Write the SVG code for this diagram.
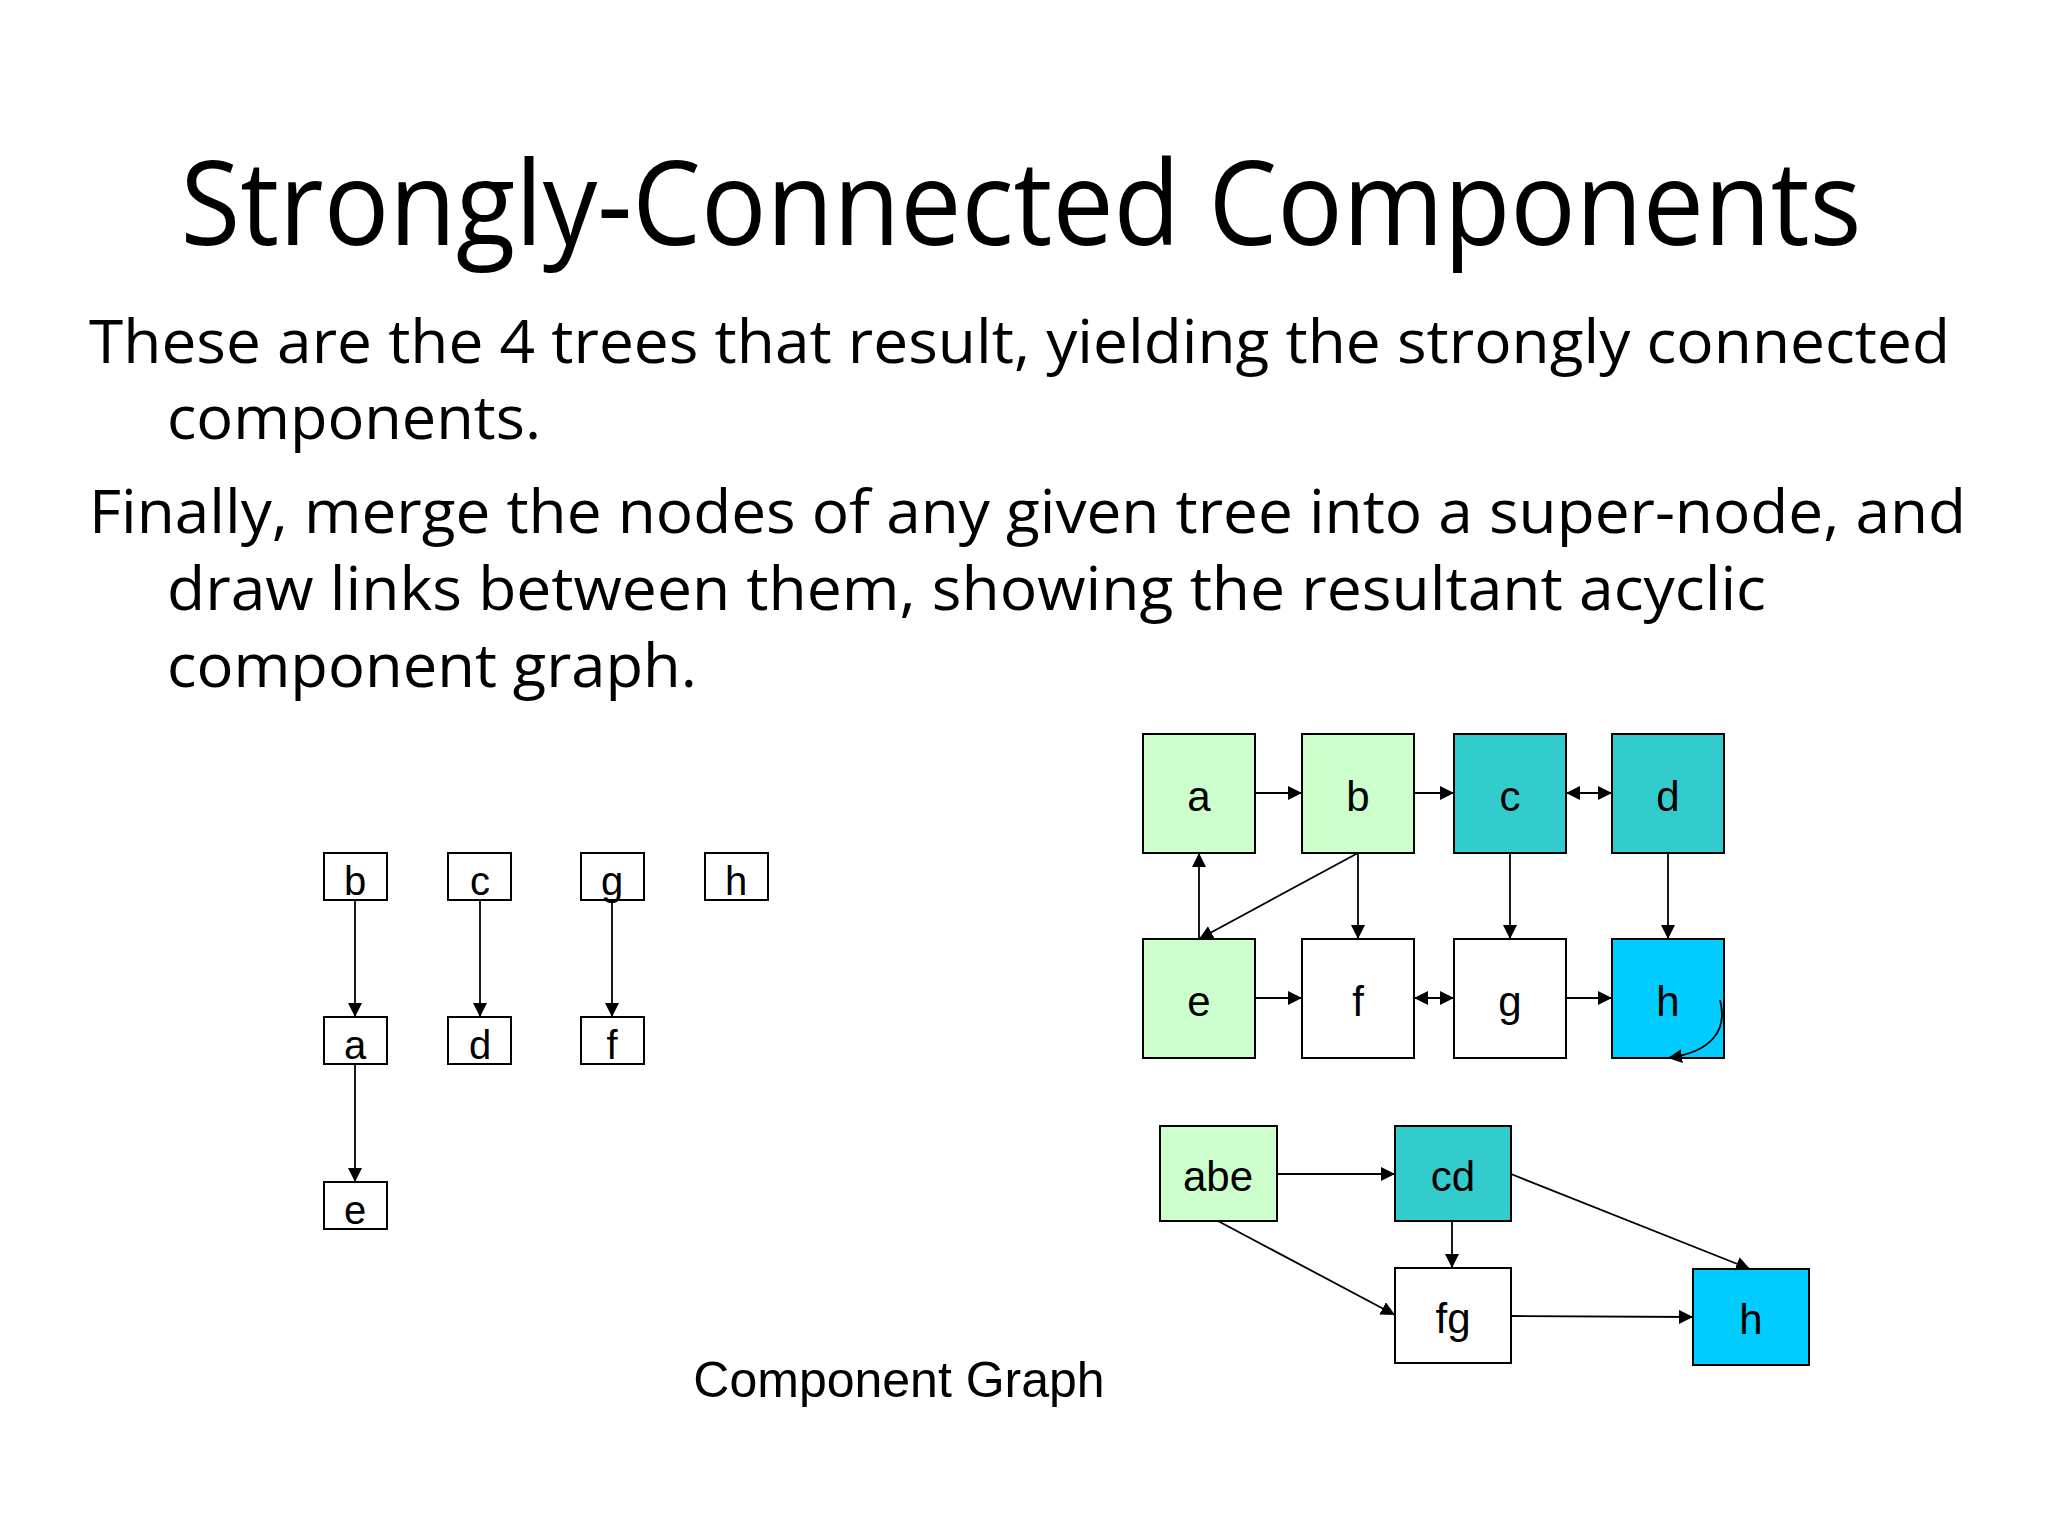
<svg xmlns="http://www.w3.org/2000/svg" width="2048" height="1536" viewBox="0 0 2048 1536">
<style>
.t{font-family:"Open Sans","DejaVu Sans",sans-serif;fill:#000}
.n{font-family:"Liberation Sans",Arial,sans-serif;fill:#000;text-anchor:middle}
.s{stroke:#000;stroke-width:2}
.e{stroke:#000;stroke-width:1.8;fill:none;marker-end:url(#ah)}
</style>
<defs>
<marker id="ah" viewBox="0 0 10 10" refX="10" refY="5" markerWidth="14" markerHeight="14" markerUnits="userSpaceOnUse" orient="auto-start-reverse"><path d="M0,0L10,5L0,10z" fill="#000"/></marker>
</defs>
<rect width="2048" height="1536" fill="#fff"/>
<text class="t" x="1021" y="245" font-size="118" text-anchor="middle" textLength="1681" lengthAdjust="spacingAndGlyphs">Strongly-Connected Components</text>
<g class="t" font-size="61">
<text x="89" y="363" textLength="1861" lengthAdjust="spacingAndGlyphs">These are the 4 trees that result, yielding the strongly connected</text>
<text x="167" y="439" textLength="374" lengthAdjust="spacingAndGlyphs">components.</text>
<text x="89" y="533" textLength="1877" lengthAdjust="spacingAndGlyphs">Finally, merge the nodes of any given tree into a super-node, and</text>
<text x="167" y="610" textLength="1599" lengthAdjust="spacingAndGlyphs">draw links between them, showing the resultant acyclic</text>
<text x="167" y="687" textLength="530" lengthAdjust="spacingAndGlyphs">component graph.</text>
</g>
<g id="tb"><rect class="s" x="324" y="853" width="63" height="47" fill="#fff"/><text class="n" x="355" y="895" font-size="40">b</text></g>
<g id="tc"><rect class="s" x="448" y="853" width="63" height="47" fill="#fff"/><text class="n" x="480" y="895" font-size="40">c</text></g>
<g id="tg"><rect class="s" x="581" y="853" width="63" height="47" fill="none"/><text class="n" x="612" y="895" font-size="40">g</text></g>
<g id="th"><rect class="s" x="705" y="853" width="63" height="47" fill="#fff"/><text class="n" x="736" y="895" font-size="40">h</text></g>
<g id="ta"><rect class="s" x="324" y="1017" width="63" height="47" fill="#fff"/><text class="n" x="355" y="1059" font-size="40">a</text></g>
<g id="td"><rect class="s" x="448" y="1017" width="63" height="47" fill="#fff"/><text class="n" x="480" y="1059" font-size="40">d</text></g>
<g id="tf"><rect class="s" x="581" y="1017" width="63" height="47" fill="#fff"/><text class="n" x="612" y="1059" font-size="40">f</text></g>
<g id="te"><rect class="s" x="324" y="1182" width="63" height="47" fill="#fff"/><text class="n" x="355" y="1224" font-size="40">e</text></g>
<g id="a"><rect class="s" x="1143" y="734" width="112" height="119" fill="#CCFFCC"/><text class="n" x="1199" y="811" font-size="42">a</text></g>
<g id="b"><rect class="s" x="1302" y="734" width="112" height="119" fill="#CCFFCC"/><text class="n" x="1358" y="811" font-size="42">b</text></g>
<g id="c"><rect class="s" x="1454" y="734" width="112" height="119" fill="#33CCCC"/><text class="n" x="1510" y="811" font-size="42">c</text></g>
<g id="d"><rect class="s" x="1612" y="734" width="112" height="119" fill="#33CCCC"/><text class="n" x="1668" y="811" font-size="42">d</text></g>
<g id="e"><rect class="s" x="1143" y="939" width="112" height="119" fill="#CCFFCC"/><text class="n" x="1199" y="1016" font-size="42">e</text></g>
<g id="f"><rect class="s" x="1302" y="939" width="112" height="119" fill="#fff"/><text class="n" x="1358" y="1016" font-size="42">f</text></g>
<g id="g"><rect class="s" x="1454" y="939" width="112" height="119" fill="#fff"/><text class="n" x="1510" y="1016" font-size="42">g</text></g>
<g id="h"><rect class="s" x="1612" y="939" width="112" height="119" fill="#00CCFF"/><text class="n" x="1668" y="1016" font-size="42">h</text></g>
<g id="abe"><rect class="s" x="1160" y="1126" width="117" height="95" fill="#CCFFCC"/><text class="n" x="1218" y="1191" font-size="42">abe</text></g>
<g id="cd"><rect class="s" x="1395" y="1126" width="116" height="95" fill="#33CCCC"/><text class="n" x="1453" y="1191" font-size="42">cd</text></g>
<g id="fg"><rect class="s" x="1395" y="1268" width="116" height="95" fill="#fff"/><text class="n" x="1453" y="1333" font-size="42">fg</text></g>
<g id="hh"><rect class="s" x="1693" y="1269" width="116" height="96" fill="#00CCFF"/><text class="n" x="1751" y="1334" font-size="42">h</text></g>
<g id="connectors">
<line class="e" x1="355" y1="900" x2="355" y2="1017"/>
<line class="e" x1="480" y1="900" x2="480" y2="1017"/>
<line class="e" x1="612" y1="900" x2="612" y2="1017"/>
<line class="e" x1="355" y1="1064" x2="355" y2="1182"/>
<line class="e" x1="1255" y1="793" x2="1302" y2="793"/>
<line class="e" x1="1414" y1="793" x2="1454" y2="793"/>
<line class="e" x1="1566" y1="793" x2="1612" y2="793" marker-start="url(#ah)"/>
<line class="e" x1="1255" y1="998" x2="1302" y2="998"/>
<line class="e" x1="1414" y1="998" x2="1454" y2="998" marker-start="url(#ah)"/>
<line class="e" x1="1566" y1="998" x2="1612" y2="998"/>
<line class="e" x1="1199" y1="939" x2="1199" y2="853"/>
<line class="e" x1="1358" y1="853" x2="1199" y2="939"/>
<line class="e" x1="1358" y1="853" x2="1358" y2="939"/>
<line class="e" x1="1510" y1="853" x2="1510" y2="939"/>
<line class="e" x1="1668" y1="853" x2="1668" y2="939"/>
<path class="e" d="M1720,1000 C1728,1030 1712,1052 1668,1058"/>
<line class="e" x1="1277" y1="1174" x2="1395" y2="1174"/>
<line class="e" x1="1452" y1="1221" x2="1452" y2="1268"/>
<line class="e" x1="1511" y1="1174" x2="1750" y2="1269"/>
<line class="e" x1="1218" y1="1221" x2="1395" y2="1315"/>
<line class="e" x1="1511" y1="1316" x2="1693" y2="1317"/>
</g>
<text class="n" x="899" y="1397" font-size="50">Component Graph</text>
</svg>
